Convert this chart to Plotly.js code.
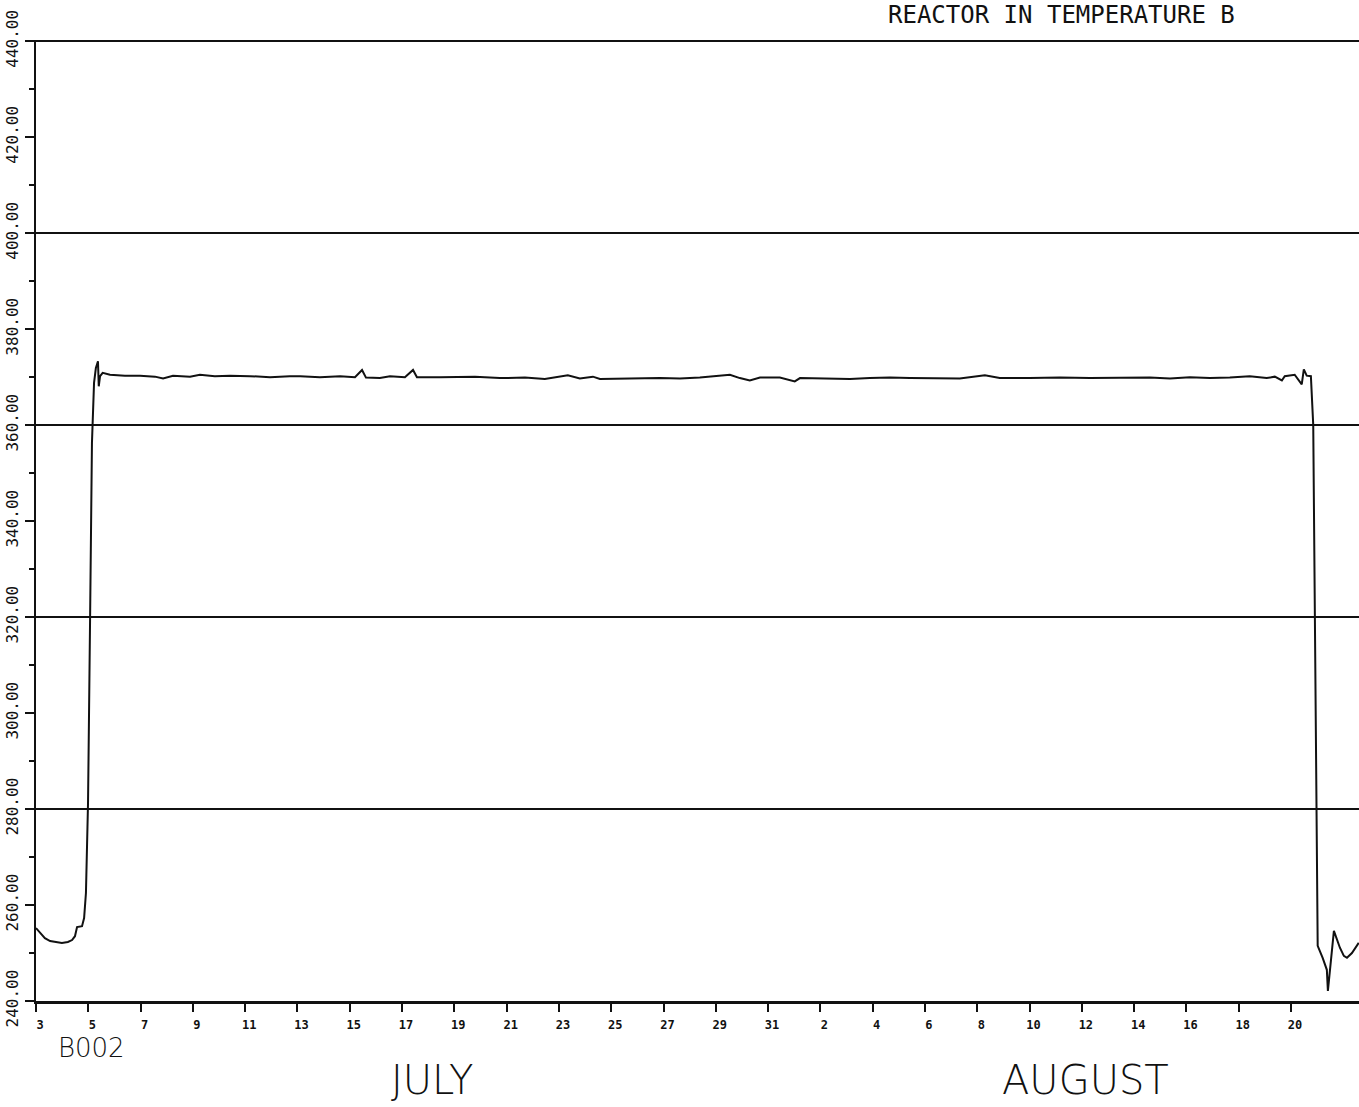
<!DOCTYPE html>
<html>
<head>
<meta charset="utf-8">
<script src="https://cdn.plot.ly/plotly-3.0.1.min.js"></script>
<style>html,body{margin:0;padding:0;background:#fff;}#chart{width:1359px;height:1107px;}</style>
</head>
<body>
<div id="chart"></div>
<script>
// x = day counted from July 1 (August d = 31 + d)
const day = [
  3.00, 3.15, 3.34, 3.54, 3.76, 3.99, 4.22, 4.38, 4.49, 4.57, 4.76, 4.84, 4.91, 4.99, 5.07, 5.14, 5.22, 5.29, 5.37, 5.40, 5.45, 5.55,
  5.83, 6.40, 6.98, 7.55, 7.86, 8.24, 8.89, 9.27, 9.84, 10.42, 11.18, 11.95, 12.71, 13.10, 13.86, 14.63, 15.20, 15.47, 15.62,
  16.15, 16.54, 17.11, 17.42, 17.57, 18.45, 19.21, 19.79, 20.74, 21.70, 22.46, 23.34, 23.80, 24.30, 24.57, 25.33, 26.10,
  26.86, 27.63, 28.39, 29.54, 29.92, 30.30, 30.69, 31.45, 32.02, 32.22, 32.98, 34.13, 34.89, 35.66, 36.42, 37.38, 38.33,
  39.29, 39.86, 41.01, 42.16, 43.31, 44.45, 45.60, 46.37, 47.13, 47.90, 48.66, 49.42, 50.07, 50.38, 50.65, 50.76, 51.14,
  51.41, 51.49, 51.60, 51.76, 51.85, 51.95, 52.02, 52.21, 52.37, 52.41, 52.49, 52.64, 52.87, 53.02, 53.14, 53.33, 53.59
];
const temp = [
  255.2, 254.2, 253.1, 252.5, 252.3, 252.1, 252.3, 252.7, 253.5, 255.4, 255.6, 257.3, 262.5, 281.3, 320.4, 356.3, 368.8, 371.9, 373.3, 368.1, 370.2, 370.9,
  370.5, 370.3, 370.3, 370.1, 369.7, 370.3, 370.1, 370.5, 370.2, 370.3, 370.2, 370.0, 370.2, 370.2, 370.0, 370.2, 370.0, 371.5, 369.9,
  369.8, 370.2, 370.0, 371.5, 370.0, 370.0, 370.0, 370.1, 369.8, 369.9, 369.6, 370.4, 369.7, 370.1, 369.6, 369.7, 369.8,
  369.8, 369.7, 369.9, 370.5, 369.8, 369.3, 369.9, 369.9, 369.1, 369.8, 369.7, 369.6, 369.8, 369.9, 369.8, 369.7, 369.7,
  370.4, 369.8, 369.8, 369.9, 369.8, 369.8, 369.9, 369.7, 370.0, 369.8, 369.9, 370.2, 369.8, 370.1, 369.3, 370.2, 370.5,
  368.5, 371.6, 370.3, 370.2, 360.0, 300.0, 251.5, 249.0, 246.5, 242.1, 246.5, 254.6, 251.1, 249.4, 249.0, 250.0, 252.1
];
const xTickVals = [3,5,7,9,11,13,15,17,19,21,23,25,27,29,31,33,35,37,39,41,43,45,47,49,51];
const xTickLabels = ['3','5','7','9','11','13','15','17','19','21','23','25','27','29','31','2','4','6','8','10','12','14','16','18','20'];
const yRange = [240, 440.25];
const titleText = 'REACTOR IN TEMPERATURE B';
const runLabel = 'B002';
const monthLabels = ['JULY', 'AUGUST'];

const trace = {
  x: day, y: temp, type: 'scatter', mode: 'lines',
  line: {color: '#111', width: 2}, hoverinfo: 'skip', showlegend: false
};
// same series bound to the grid axis (invisible) so that axis is drawn
const gridTrace = {
  x: day, y: temp, type: 'scatter', mode: 'lines', yaxis: 'y2',
  line: {color: 'rgba(0,0,0,0)', width: 0}, hoverinfo: 'skip', showlegend: false
};

const layout = {
  width: 1359, height: 1107,
  margin: {l: 36, r: 0, t: 40, b: 106, pad: 0},
  paper_bgcolor: '#fff', plot_bgcolor: '#fff',
  showlegend: false,
  title: {
    text: titleText, xref: 'container', yref: 'container',
    x: 888/1359, xanchor: 'left', y: 1 - 15/1107, yanchor: 'middle',
    font: {family: 'DejaVu Sans Mono', size: 24, color: '#111'}
  },
  xaxis: {
    range: [3, 53.6], tickmode: 'array', tickvals: xTickVals, ticktext: xTickLabels,
    ticks: 'outside', ticklen: 8, tickwidth: 2, tickcolor: '#111',
    ticklabelshift: 4, ticklabelstandoff: 3,
    tickfont: {family: 'DejaVu Sans Mono', size: 12, color: '#111', weight: 'bold'},
    showline: true, linecolor: '#111', linewidth: 2.5,
    showgrid: false, zeroline: false
  },
  yaxis: {
    range: yRange, tickmode: 'linear', tick0: 240, dtick: 20, tickformat: '.2f',
    tickangle: -90, ticks: 'outside', ticklen: 9, tickwidth: 2, tickcolor: '#111',
    tickfont: {family: 'DejaVu Sans Mono', size: 16, color: '#111'},
    minor: {tick0: 240, dtick: 10, ticks: 'outside', ticklen: 5, tickwidth: 1.5, tickcolor: '#111', showgrid: false},
    showline: true, linecolor: '#111', linewidth: 2.5,
    showgrid: false, zeroline: false
  },
  yaxis2: {
    overlaying: 'y', anchor: 'x', side: 'left',
    range: yRange, tickmode: 'linear', tick0: 240, dtick: 40,
    showgrid: true, gridcolor: '#111', gridwidth: 1.6,
    showticklabels: false, ticks: '', showline: false, zeroline: false
  },
  annotations: [
    {text: runLabel, xref: 'paper', yref: 'paper', x: 0.0423, y: -0.049, xanchor: 'center', yanchor: 'middle', showarrow: false,
     font: {family: 'DejaVu Sans', size: 26, color: '#111', weight: 300}},
    {text: monthLabels[0], xref: 'paper', yref: 'paper', x: 0.2993, y: -0.082, xanchor: 'center', yanchor: 'middle', showarrow: false,
     font: {family: 'DejaVu Sans', size: 40, color: '#111', weight: 300}},
    {text: monthLabels[1], xref: 'paper', yref: 'paper', x: 0.7929, y: -0.082, xanchor: 'center', yanchor: 'middle', showarrow: false,
     font: {family: 'DejaVu Sans', size: 40, color: '#111', weight: 300}}
  ]
};

Plotly.newPlot('chart', [trace, gridTrace], layout, {staticPlot: true, displayModeBar: false});
</script>
</body>
</html>
